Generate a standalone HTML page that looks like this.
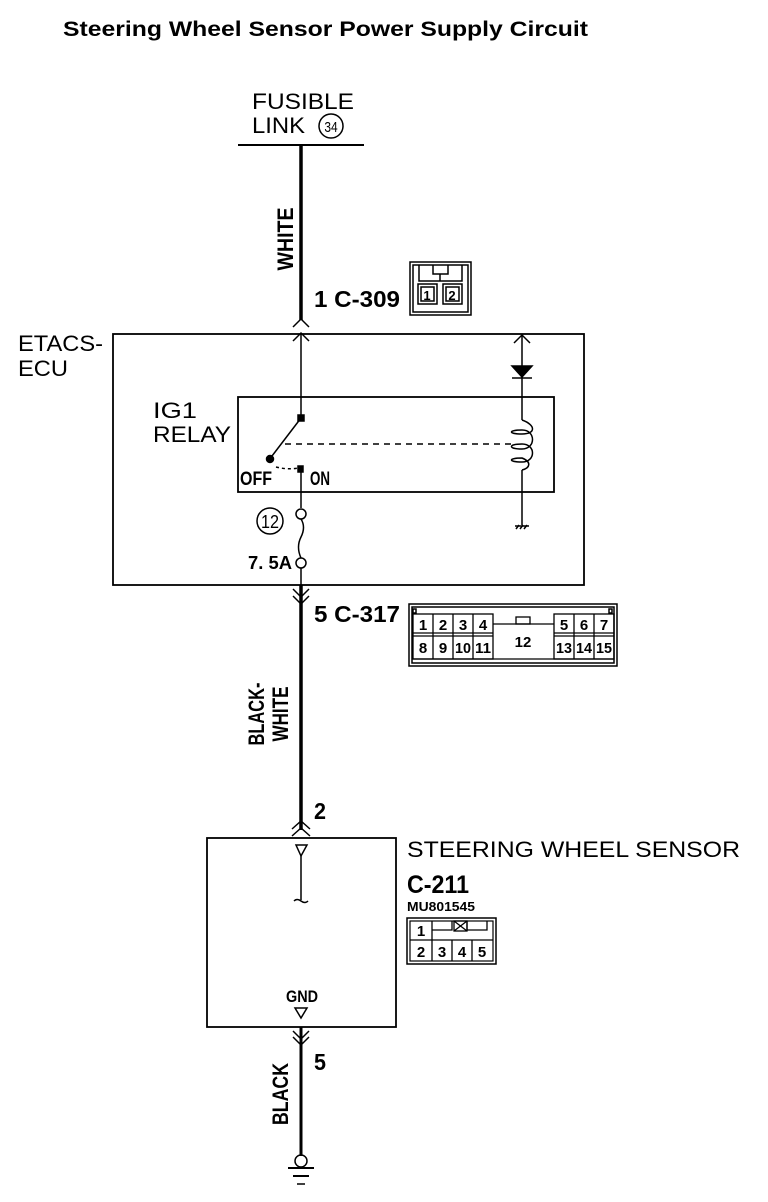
<!DOCTYPE html>
<html><head><meta charset="utf-8"><style>
html,body{margin:0;padding:0;background:#fff}
svg{display:block}
text{font-family:"Liberation Sans",sans-serif;fill:#000}
.b{font-weight:bold}
</style></head><body>
<svg width="768" height="1202" viewBox="0 0 768 1202" xmlns="http://www.w3.org/2000/svg">
<g fill="none" stroke="#000" stroke-width="1.5">
<text x="63" y="36" class="b" font-size="21" stroke="none" textLength="525" lengthAdjust="spacingAndGlyphs">Steering Wheel Sensor Power Supply Circuit</text>
<text x="252" y="109" font-size="22" stroke="none" textLength="102" lengthAdjust="spacingAndGlyphs">FUSIBLE</text>
<text x="252" y="133" font-size="22" stroke="none" textLength="53" lengthAdjust="spacingAndGlyphs">LINK</text>
<circle cx="331" cy="126" r="12"/>
<text x="331" y="132" font-size="15" text-anchor="middle" stroke="none" transform="translate(331 0) scale(0.8 1) translate(-331 0)">34</text>
<line x1="238" y1="145" x2="364" y2="145" stroke-width="2"/>
<line x1="301" y1="145" x2="301" y2="320" stroke-width="3.5"/>
<text class="b" font-size="22" stroke="none" transform="translate(293 239) rotate(-90)" text-anchor="middle" textLength="63" lengthAdjust="spacingAndGlyphs">WHITE</text>
<text x="314" y="307" class="b" font-size="23" stroke="none" textLength="86" lengthAdjust="spacingAndGlyphs">1 C-309</text>
<!-- C-309 icon -->
<rect x="410" y="262" width="61" height="53"/>
<rect x="413" y="265" width="55" height="47"/>
<polyline points="419,265 419,281 462,281 462,265"/>
<polyline points="433,265 433,274 448,274 448,265"/>
<line x1="440" y1="274" x2="440" y2="281"/>
<rect x="418" y="284" width="19" height="20"/><rect x="421" y="287" width="13" height="14"/>
<rect x="443" y="284" width="19" height="20"/><rect x="446" y="287" width="13" height="14"/>
<text x="427" y="300" class="b" font-size="13" text-anchor="middle" stroke="none">1</text>
<text x="452" y="300" class="b" font-size="13" text-anchor="middle" stroke="none">2</text>
<polyline points="293,327 301,319 309,327"/>
<polyline points="293,341 301,333 309,341"/>
<rect x="113" y="334" width="471" height="251" stroke-width="1.8"/>
<text x="18" y="351" font-size="22" stroke="none" textLength="85" lengthAdjust="spacingAndGlyphs">ETACS-</text>
<text x="18" y="376" font-size="22" stroke="none" textLength="50" lengthAdjust="spacingAndGlyphs">ECU</text>
<line x1="301" y1="334" x2="301" y2="418"/>
<rect x="238" y="397" width="316" height="95" stroke-width="1.8"/>
<text x="153" y="418" font-size="22" stroke="none" textLength="44" lengthAdjust="spacingAndGlyphs">IG1</text>
<text x="153" y="442" font-size="22" stroke="none" textLength="78" lengthAdjust="spacingAndGlyphs">RELAY</text>
<rect x="298" y="415" width="6" height="6" fill="#000"/>
<line x1="301" y1="418" x2="272" y2="456"/>
<circle cx="270" cy="459" r="3.5" fill="#000"/>
<line x1="285" y1="444" x2="513" y2="444" stroke-dasharray="6,5"/>
<path d="M276 467 Q288 470 298 468" stroke-dasharray="3,3"/>
<rect x="298" y="466" width="5" height="6" fill="#000"/>
<text x="240" y="485" class="b" font-size="19" stroke="none" textLength="32" lengthAdjust="spacingAndGlyphs">OFF</text>
<text x="310" y="485" class="b" font-size="19" stroke="none" textLength="20" lengthAdjust="spacingAndGlyphs">ON</text>
<line x1="301" y1="469" x2="301" y2="508"/>
<circle cx="301" cy="514" r="5"/>
<path d="M301 519 Q306 527 301 537 Q296 547 301 558"/>
<circle cx="301" cy="563" r="5"/>
<circle cx="270" cy="521" r="13"/>
<text x="270" y="528" font-size="18" text-anchor="middle" stroke="none" textLength="18" lengthAdjust="spacingAndGlyphs">12</text>
<text x="248" y="569" class="b" font-size="18" stroke="none" textLength="44" lengthAdjust="spacingAndGlyphs">7. 5A</text>
<line x1="301" y1="568" x2="301" y2="585"/>
<polyline points="514,343 522,335 530,343"/>
<line x1="522" y1="335" x2="522" y2="420"/>
<polygon points="512,366 532,366 522,377" fill="#000"/>
<line x1="512" y1="378" x2="532" y2="378"/>
<path d="M522 420 C536 425 536 434 522 434 C508 434 508 430 522 430 C536 430 536 449 522 449 C508 449 508 444 522 444 C536 444 536 462 522 462 C508 462 508 458 522 458 C532 462 530 468 522 470"/>
<line x1="522" y1="470" x2="522" y2="525"/>
<line x1="515" y1="526" x2="529" y2="526"/>
<line x1="516" y1="529" x2="519" y2="525"/><line x1="520" y1="529" x2="523" y2="525"/><line x1="524" y1="529" x2="527" y2="525"/>
<polyline points="293,589 301,597 309,589"/>
<polyline points="293,596 301,604 309,596"/>
<line x1="301" y1="585" x2="301" y2="830" stroke-width="3.5"/>
<text x="314" y="622" class="b" font-size="23" stroke="none" textLength="86" lengthAdjust="spacingAndGlyphs">5 C-317</text>
<rect x="409" y="604" width="208" height="62"/>
<rect x="412" y="607" width="202" height="56"/>
<rect x="413" y="609" width="3" height="4"/><rect x="609" y="609" width="3" height="4"/>
<g stroke-width="1.3">
<rect x="413" y="614" width="80" height="45"/>
<rect x="554" y="614" width="60" height="45"/>
<line x1="413" y1="633" x2="493" y2="633"/><line x1="413" y1="636" x2="493" y2="636"/>
<line x1="554" y1="633" x2="614" y2="633"/><line x1="554" y1="636" x2="614" y2="636"/>
<line x1="433" y1="614" x2="433" y2="659"/><line x1="453" y1="614" x2="453" y2="659"/><line x1="473" y1="614" x2="473" y2="659"/>
<line x1="574" y1="614" x2="574" y2="659"/><line x1="594" y1="614" x2="594" y2="659"/>
<line x1="493" y1="624" x2="554" y2="624"/>
<rect x="516" y="617" width="14" height="7"/>
<line x1="413" y1="659" x2="614" y2="659"/>
</g>
<g class="b" font-size="15" text-anchor="middle" stroke="none">
<text x="423" y="630">1</text><text x="443" y="630">2</text><text x="463" y="630">3</text><text x="483" y="630">4</text>
<text x="423" y="653">8</text><text x="443" y="653">9</text><text x="463" y="653" textLength="16" lengthAdjust="spacingAndGlyphs">10</text><text x="483" y="653" textLength="16" lengthAdjust="spacingAndGlyphs">11</text>
<text x="523" y="647">12</text>
<text x="564" y="630">5</text><text x="584" y="630">6</text><text x="604" y="630">7</text>
<text x="564" y="653" textLength="16" lengthAdjust="spacingAndGlyphs">13</text><text x="584" y="653" textLength="16" lengthAdjust="spacingAndGlyphs">14</text><text x="604" y="653" textLength="16" lengthAdjust="spacingAndGlyphs">15</text>
</g>
<text class="b" font-size="22" stroke="none" transform="translate(264 714) rotate(-90)" text-anchor="middle" textLength="63" lengthAdjust="spacingAndGlyphs">BLACK-</text>
<text class="b" font-size="22" stroke="none" transform="translate(288 714) rotate(-90)" text-anchor="middle" textLength="55" lengthAdjust="spacingAndGlyphs">WHITE</text>
<text x="314" y="819" class="b" font-size="23" stroke="none" textLength="12" lengthAdjust="spacingAndGlyphs">2</text>
<polyline points="292,829 301,821 310,829"/>
<polyline points="292,836 301,828 310,836"/>
<rect x="207" y="838" width="189" height="189" stroke-width="1.8"/>
<polygon points="296,845 307,845 301,856"/>
<line x1="301" y1="856" x2="301" y2="900"/>
<path d="M294 901 Q297 898 301 901 Q305 904 308 901"/>
<text x="407" y="857" font-size="22" stroke="none" textLength="333" lengthAdjust="spacingAndGlyphs">STEERING WHEEL SENSOR</text>
<text x="407" y="893" class="b" font-size="25" stroke="none" textLength="62" lengthAdjust="spacingAndGlyphs">C-211</text>
<text x="407" y="911" class="b" font-size="13" stroke="none" textLength="68" lengthAdjust="spacingAndGlyphs">MU801545</text>
<rect x="407" y="918" width="89" height="46"/>
<rect x="410" y="921" width="83" height="40" stroke-width="1.2"/>
<g stroke-width="1.3">
<line x1="410" y1="940" x2="493" y2="940"/>
<line x1="432" y1="921" x2="432" y2="961"/>
<line x1="452" y1="940" x2="452" y2="961"/><line x1="472" y1="940" x2="472" y2="961"/>
<polyline points="432,930 452,930 452,921"/>
<polyline points="487,921 487,930 467,930 467,921"/>
<rect x="454" y="921" width="13" height="10"/>
<line x1="454" y1="921" x2="467" y2="931"/><line x1="467" y1="921" x2="454" y2="931"/>
</g>
<g class="b" font-size="15" text-anchor="middle" stroke="none">
<text x="421" y="936">1</text><text x="421" y="957">2</text><text x="442" y="957">3</text><text x="462" y="957">4</text><text x="482" y="957">5</text>
</g>
<text x="286" y="1002" class="b" font-size="17" stroke="none" textLength="32" lengthAdjust="spacingAndGlyphs">GND</text>
<polygon points="295,1008 307,1008 301,1018"/>
<polyline points="293,1031 301,1039 309,1031"/>
<polyline points="293,1037 301,1045 309,1037"/>
<line x1="301" y1="1027" x2="301" y2="1156" stroke-width="3"/>
<text x="314" y="1070" class="b" font-size="23" stroke="none" textLength="12" lengthAdjust="spacingAndGlyphs">5</text>
<text class="b" font-size="22" stroke="none" transform="translate(288 1094) rotate(-90)" text-anchor="middle" textLength="62" lengthAdjust="spacingAndGlyphs">BLACK</text>
<circle cx="301" cy="1161" r="6"/>
<line x1="288" y1="1168" x2="314" y2="1168" stroke-width="2"/>
<line x1="293" y1="1176" x2="309" y2="1176" stroke-width="2"/>
<line x1="297" y1="1184" x2="305" y2="1184"/>
</g>
</svg>
</body></html>
